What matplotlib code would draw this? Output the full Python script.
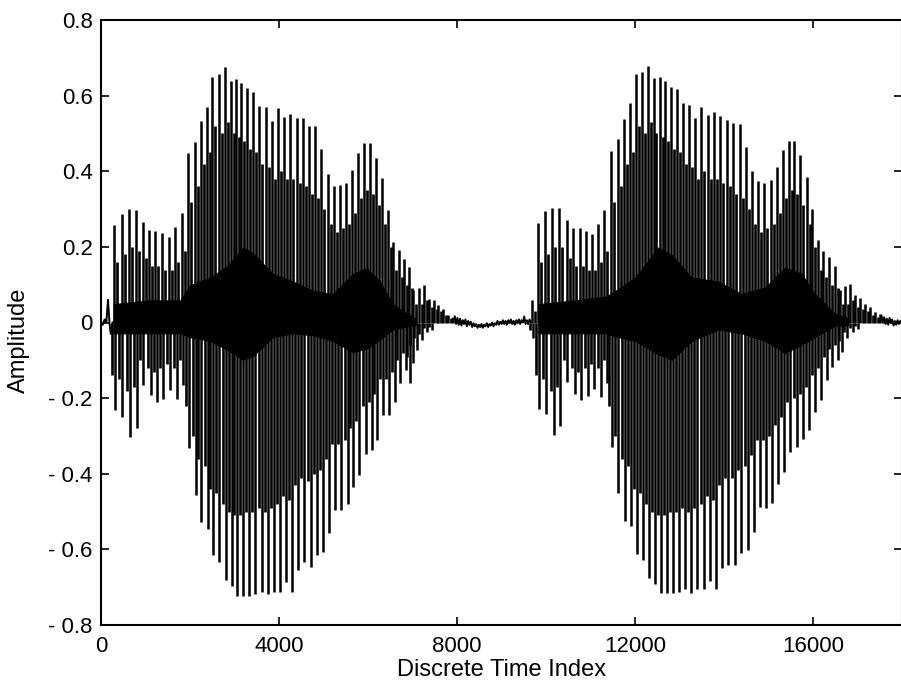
import numpy as np
import matplotlib
matplotlib.use("Agg")
import matplotlib.pyplot as plt

# ---------------- data ----------------
# first utterance: positive pitch-pulse peaks and the lower companion peaks
u1_top_x = [300, 479, 629, 786, 936, 1086, 1221, 1371, 1521, 1663, 1813, 1948, 2112, 2247, 2375,
            2501, 2645, 2786, 2914, 3033, 3146, 3281, 3415, 3558, 3700, 3835, 3970, 4112, 4254,
            4397, 4532, 4682, 4809, 4951, 5094, 5236, 5370, 5505, 5633, 5768, 5910, 6044, 6179,
            6314, 6442, 6569, 6696, 6815, 6928, 7004, 7146, 7258, 7377, 7483, 7580, 7692, 7804, 7917]
u1_top_y = [0.259, 0.288, 0.299, 0.297, 0.266, 0.244, 0.242, 0.236, 0.227, 0.253, 0.290, 0.447,
            0.478, 0.533, 0.571, 0.650, 0.657, 0.675, 0.638, 0.643, 0.634, 0.619, 0.610, 0.573,
            0.571, 0.533, 0.566, 0.544, 0.551, 0.542, 0.540, 0.520, 0.520, 0.458, 0.394, 0.361,
            0.363, 0.370, 0.403, 0.449, 0.474, 0.474, 0.434, 0.381, 0.297, 0.213, 0.191, 0.167,
            0.147, 0.085, 0.090, 0.099, 0.063, 0.059, 0.046, 0.037, 0.019, 0.015]
u1_top2_y = [0.16, 0.18, 0.20, 0.19, 0.17, 0.15, 0.15, 0.14, 0.14, 0.16, 0.19, 0.32, 0.36, 0.42,
             0.45, 0.52, 0.50, 0.53, 0.50, 0.49, 0.48, 0.46, 0.45, 0.42, 0.41, 0.38, 0.40, 0.38,
             0.38, 0.37, 0.36, 0.34, 0.33, 0.30, 0.26, 0.24, 0.25, 0.26, 0.29, 0.33, 0.35, 0.34,
             0.31, 0.26, 0.20, 0.14, 0.12, 0.10, 0.09, 0.05, 0.05, 0.06, 0.04, 0.035, 0.03, 0.02,
             0.012, 0.01]
# first utterance: negative peaks
u1_bot_x = [315, 479, 652, 801, 936, 1116, 1266, 1401, 1551, 1700, 1850, 1985, 2127, 2247, 2397,
            2524, 2659, 2809, 2936, 3063, 3198, 3333, 3468, 3610, 3745, 3880, 4022, 4157, 4299,
            4434, 4569, 4711, 4846, 4981, 5123, 5258, 5393, 5542, 5670, 5804, 5947, 6082, 6209,
            6344, 6479, 6606, 6719, 6853, 6940, 7011, 7101, 7206, 7318, 7437]
u1_bot_y = [-0.232, -0.250, -0.303, -0.278, -0.166, -0.192, -0.210, -0.201, -0.179, -0.201,
            -0.166, -0.333, -0.457, -0.528, -0.545, -0.616, -0.633, -0.682, -0.698, -0.722,
            -0.722, -0.722, -0.717, -0.713, -0.717, -0.713, -0.713, -0.686, -0.713, -0.655,
            -0.633, -0.647, -0.616, -0.607, -0.558, -0.497, -0.497, -0.479, -0.435, -0.404,
            -0.347, -0.338, -0.311, -0.245, -0.245, -0.210, -0.161, -0.126, -0.161, -0.108,
            -0.073, -0.047, -0.025, -0.020]
u1_bot2_y = [-0.14, -0.15, -0.18, -0.17, -0.10, -0.12, -0.13, -0.12, -0.11, -0.12, -0.10, -0.22,
             -0.30, -0.36, -0.38, -0.44, -0.45, -0.48, -0.50, -0.51, -0.51, -0.50, -0.50, -0.49,
             -0.50, -0.49, -0.48, -0.46, -0.47, -0.43, -0.41, -0.42, -0.40, -0.39, -0.36, -0.32,
             -0.32, -0.31, -0.28, -0.26, -0.22, -0.21, -0.19, -0.15, -0.15, -0.13, -0.10, -0.08,
             -0.09, -0.06, -0.04, -0.03, -0.015, -0.012]

# second utterance: positive peaks
u2_top_x = [9678, 9827, 9977, 10141, 10298, 10464, 10613, 10763, 10898, 11026, 11161, 11302,
            11453, 11610, 11759, 11893, 12021, 12163, 12298, 12418, 12553, 12673, 12801, 12943,
            13077, 13212, 13347, 13482, 13632, 13774, 13916, 14059, 14208, 14358, 14486, 14635,
            14770, 14905, 15055, 15183, 15318, 15459, 15579, 15713, 15857, 15983, 16104, 16230,
            16358, 16493, 16605, 16718, 16830, 16942, 17055, 17167, 17280, 17392, 17504]
u2_top_y = [0.059, 0.264, 0.295, 0.304, 0.304, 0.271, 0.249, 0.249, 0.242, 0.234, 0.260, 0.297,
            0.454, 0.484, 0.537, 0.580, 0.657, 0.663, 0.678, 0.646, 0.648, 0.639, 0.623, 0.617,
            0.580, 0.575, 0.540, 0.571, 0.549, 0.556, 0.546, 0.535, 0.527, 0.525, 0.463, 0.400,
            0.375, 0.369, 0.378, 0.410, 0.456, 0.481, 0.481, 0.443, 0.385, 0.299, 0.218, 0.189,
            0.174, 0.149, 0.087, 0.096, 0.103, 0.072, 0.066, 0.050, 0.041, 0.028, 0.022]
u2_top2_y = [0.03, 0.16, 0.18, 0.20, 0.20, 0.17, 0.15, 0.15, 0.14, 0.14, 0.16, 0.19, 0.32, 0.36,
             0.42, 0.45, 0.52, 0.50, 0.53, 0.50, 0.49, 0.48, 0.46, 0.45, 0.42, 0.41, 0.38, 0.40,
             0.38, 0.38, 0.37, 0.36, 0.34, 0.33, 0.30, 0.26, 0.24, 0.25, 0.26, 0.29, 0.33, 0.35,
             0.34, 0.31, 0.26, 0.20, 0.14, 0.12, 0.10, 0.09, 0.05, 0.05, 0.06, 0.04, 0.035, 0.03,
             0.02, 0.015, 0.012]
# second utterance: negative peaks
u2_bot_x = [9700, 9842, 9999, 10172, 10321, 10478, 10651, 10786, 10936, 11085, 11235, 11363,
            11490, 11624, 11768, 11902, 12037, 12172, 12314, 12448, 12576, 12718, 12846, 12981,
            13123, 13257, 13392, 13542, 13684, 13819, 13961, 14096, 14246, 14381, 14531, 14666,
            14808, 14943, 15077, 15219, 15354, 15489, 15632, 15767, 15909, 16044, 16178, 16306,
            16433, 16553, 16643, 16756, 16904, 17016]
u2_bot_y = [-0.040, -0.228, -0.243, -0.298, -0.274, -0.157, -0.188, -0.204, -0.195, -0.175,
            -0.197, -0.161, -0.329, -0.452, -0.525, -0.539, -0.611, -0.627, -0.675, -0.691,
            -0.715, -0.715, -0.715, -0.713, -0.706, -0.715, -0.706, -0.706, -0.684, -0.706,
            -0.648, -0.640, -0.640, -0.610, -0.601, -0.554, -0.488, -0.490, -0.477, -0.426,
            -0.395, -0.342, -0.329, -0.307, -0.285, -0.237, -0.206, -0.153, -0.117, -0.098,
            -0.078, -0.042, -0.025, -0.016]
u2_bot2_y = [-0.02, -0.14, -0.15, -0.18, -0.17, -0.10, -0.12, -0.13, -0.12, -0.11, -0.12, -0.10,
             -0.22, -0.30, -0.36, -0.38, -0.44, -0.45, -0.48, -0.50, -0.51, -0.51, -0.50, -0.50,
             -0.49, -0.50, -0.49, -0.48, -0.46, -0.47, -0.43, -0.41, -0.41, -0.39, -0.38, -0.35,
             -0.31, -0.31, -0.30, -0.27, -0.25, -0.21, -0.20, -0.19, -0.17, -0.14, -0.12, -0.09,
             -0.07, -0.06, -0.05, -0.025, -0.015, -0.01]

# dense (solid black) core of the waveform
blob1_x = [270, 1100, 1775, 2000, 2450, 2830, 3190, 3415, 3865, 4315, 4765, 5210, 5660, 5980,
           6270, 6560, 6875, 7100]
blob1_hi = [0.05, 0.06, 0.06, 0.10, 0.12, 0.15, 0.20, 0.185, 0.13, 0.11, 0.085, 0.077, 0.13,
            0.145, 0.11, 0.05, 0.025, 0.01]
blob1_lo = [-0.03, -0.03, -0.03, -0.04, -0.05, -0.073, -0.10, -0.09, -0.04, -0.03, -0.035,
            -0.05, -0.08, -0.07, -0.047, -0.02, -0.012, -0.008]
blob2_x = [9820, 10650, 11350, 11550, 12000, 12515, 12830, 13280, 13865, 14400, 14920, 15370,
           15750, 16045, 16490, 16800]
blob2_hi = [0.05, 0.06, 0.07, 0.085, 0.12, 0.20, 0.18, 0.12, 0.11, 0.077, 0.094, 0.147, 0.13,
            0.077, 0.025, 0.012]
blob2_lo = [-0.03, -0.03, -0.03, -0.038, -0.05, -0.085, -0.10, -0.05, -0.02, -0.03, -0.05,
            -0.082, -0.06, -0.04, -0.01, -0.008]

# low-level background before, between and after the utterances
lead_x = [0, 40, 80, 120, 157, 190, 218, 260]
lead_y = [0.0, -0.006, 0.008, 0.0, 0.060, 0.0, -0.030, 0.0]
gap_x = [7950, 7980, 8010, 8040, 8070, 8100, 8130, 8160, 8190, 8220, 8250, 8280, 8310, 8340,
         8370, 8400, 8430, 8460, 8490, 8520, 8550, 8580, 8610, 8640, 8670, 8700, 8730, 8760,
         8790, 8820, 8850, 8880, 8910, 8940, 8970, 9000, 9030, 9060, 9090, 9120, 9150, 9180,
         9210, 9240, 9270, 9300, 9330, 9360, 9390, 9420, 9450, 9480, 9510, 9540, 9570, 9600,
         9630, 9660]
gap_y = [0.016, -0.004, 0.012, -0.006, 0.010, -0.008, 0.006, -0.004, 0.008, -0.010, 0.004,
         -0.006, 0.002, -0.012, -0.002, -0.010, -0.004, -0.014, -0.006, -0.012, -0.004, -0.014,
         -0.006, -0.010, -0.002, -0.012, -0.004, -0.008, 0.000, -0.010, -0.002, -0.006, 0.004,
         -0.006, 0.002, -0.004, 0.006, -0.004, 0.004, -0.006, 0.006, -0.002, 0.008, -0.004,
         0.004, -0.006, 0.006, -0.002, 0.008, -0.004, 0.006, 0.000, 0.016, -0.004, 0.006,
         -0.004, 0.008, 0.0]
tail_x = [17540, 17570, 17600, 17630, 17660, 17690, 17720, 17750, 17780, 17810, 17840, 17870,
          17900, 17930, 17960, 18000]
tail_y = [0.018, 0.000, 0.014, -0.004, 0.010, -0.006, 0.012, -0.002, 0.008, -0.008, 0.004,
          -0.006, 0.006, -0.004, 0.004, 0.0]

xticks = [0, 4000, 8000, 12000, 16000]
xtick_labels = ["0", "4000", "8000", "12000", "16000"]
yticks = [0.8, 0.6, 0.4, 0.2, 0.0, -0.2, -0.4, -0.6, -0.8]
ytick_labels = ["0.8", "0.6", "0.4", "0.2", "0", "- 0.2", "- 0.4", "- 0.6", "- 0.8"]

# ---------------- plotting ----------------
plt.rcParams["font.family"] = ["Liberation Sans", "DejaVu Sans"]
fig = plt.figure(figsize=(9.01, 6.86), dpi=100)
ax = fig.add_axes([101 / 901, 61 / 686, 801 / 901, 605 / 686])

lw = 1.8          # main pulses
lw2 = 1.9         # companion peaks
off = 65          # companion peak lag (samples)
k = "black"
ax.vlines(u1_top_x, 0, u1_top_y, color=k, lw=lw)
ax.vlines(np.array(u1_top_x) + off, 0, u1_top2_y, color=k, lw=lw2)
ax.vlines(u1_bot_x, u1_bot_y, 0, color=k, lw=lw)
ax.vlines(np.array(u1_bot_x) - off, u1_bot2_y, 0, color=k, lw=lw2)
ax.vlines(u2_top_x, 0, u2_top_y, color=k, lw=lw)
ax.vlines(np.array(u2_top_x) + off, 0, u2_top2_y, color=k, lw=lw2)
ax.vlines(u2_bot_x, u2_bot_y, 0, color=k, lw=lw)
ax.vlines(np.array(u2_bot_x) - off, u2_bot2_y, 0, color=k, lw=lw2)
ax.fill_between(blob1_x, blob1_lo, blob1_hi, color=k, lw=0)
ax.fill_between(blob2_x, blob2_lo, blob2_hi, color=k, lw=0)
ax.plot(lead_x, lead_y, color=k, lw=1.4)
ax.plot(gap_x, gap_y, color=k, lw=1.4)
ax.plot(tail_x, tail_y, color=k, lw=1.4)

ax.set_xlim(0, 18000)
ax.set_ylim(-0.8, 0.8)
ax.set_xticks(xticks)
ax.set_xticklabels(xtick_labels)
ax.set_yticks(yticks)
ax.set_yticklabels(ytick_labels)
ax.tick_params(direction="in", length=6, width=1.2, labelsize=16, top=True, right=True,
               colors="black")
ax.tick_params(axis="x", pad=8)
ax.tick_params(axis="y", pad=6)
for sp in ax.spines.values():
    sp.set_linewidth(1.5)
ax.set_xlabel("Discrete Time Index", fontsize=17)
ax.xaxis.set_label_coords(0.5, -0.056)
ax.set_ylabel("Amplitude", fontsize=17)
ax.yaxis.set_label_coords(-0.089, 0.471)

fig.savefig("out.png", dpi=100)
